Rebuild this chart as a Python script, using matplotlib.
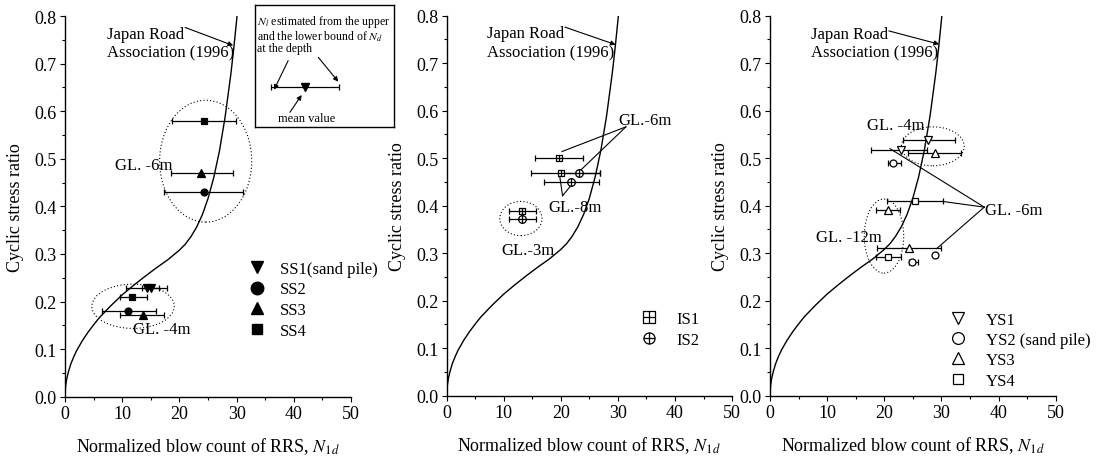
import matplotlib
matplotlib.use('Agg')
import matplotlib.pyplot as plt
from matplotlib.patches import Ellipse
from matplotlib.lines import Line2D
from matplotlib.path import Path
from matplotlib.ticker import FormatStrFormatter, MultipleLocator
import numpy as np

plt.rcParams['font.family'] = ['Liberation Serif', 'DejaVu Serif']
plt.rcParams['mathtext.fontset'] = 'stix'

# ---------------- data ----------------
# Japan Road Association (1996) curve
jra_N = [0, 0.1, 0.3, 0.6, 1, 1.5, 2, 3, 4, 5, 6, 8, 10, 12, 14, 16, 18, 20, 21, 22,
         23, 24, 25, 26, 27, 28, 29, 29.5, 30, 30.1]
jra_csr = [0, 0.021, 0.037, 0.052, 0.068, 0.083, 0.096, 0.117, 0.135, 0.151, 0.166,
           0.191, 0.214, 0.234, 0.253, 0.271, 0.288, 0.308, 0.320, 0.336, 0.356, 0.382,
           0.416, 0.460, 0.516, 0.588, 0.678, 0.731, 0.790, 0.803]

# Panel 1: SS sites  (mean N, CSR, lower N, upper N)
ss_labels = ['SS1(sand pile)', 'SS2', 'SS3', 'SS4']
ss1_N = [14.3, 15.0]; ss1_csr = [0.228, 0.228]; ss1_lo = [10.6, 13.4]; ss1_hi = [17.9, 16.4]
ss2_N = [11.1, 24.3]; ss2_csr = [0.181, 0.431]; ss2_lo = [6.4, 17.4]; ss2_hi = [16.0, 31.2]
ss3_N = [13.6, 23.8]; ss3_csr = [0.172, 0.470]; ss3_lo = [9.6, 18.5]; ss3_hi = [17.4, 29.4]
ss4_N = [11.8, 24.3]; ss4_csr = [0.209, 0.580]; ss4_lo = [9.6, 18.7]; ss4_hi = [14.4, 29.9]

# Panel 2: IS sites
is_labels = ['IS1', 'IS2']
is1_N = [19.7, 20.0, 13.2]; is1_csr = [0.500, 0.469, 0.389]; is1_lo = [15.5, 14.8, 11.0]; is1_hi = [23.8, 26.9, 15.6]
is2_N = [23.2, 21.8, 13.2]; is2_csr = [0.469, 0.449, 0.371]; is2_lo = [20.0, 17.1, 11.0]; is2_hi = [26.9, 26.7, 15.6]

# Panel 3: YS sites
ys_labels = ['YS1', 'YS2 (sand pile)', 'YS3', 'YS4']
ys1_N = [27.7, 23.0]; ys1_csr = [0.539, 0.518]; ys1_lo = [23.3, 17.6]; ys1_hi = [32.4, 27.5]
ys2_N = [21.6, 28.9, 24.9]; ys2_csr = [0.489, 0.296, 0.281]; ys2_lo = [20.7, 28.9, 24.3]; ys2_hi = [23.0, 28.9, 25.9]
ys3_N = [28.9, 20.6, 24.3]; ys3_csr = [0.511, 0.390, 0.310]; ys3_lo = [24.2, 18.5, 18.8]; ys3_hi = [33.5, 22.8, 30.0]
ys4_N = [25.3, 20.7]; ys4_csr = [0.409, 0.291]; ys4_lo = [20.4, 18.5]; ys4_hi = [30.2, 22.9]

# depth groups: (centre N, centre CSR, width N, height CSR)
ss_groups = [(24.6, 0.495, 16.1, 0.256), (11.9, 0.190, 14.4, 0.093)]
is_groups = [(13.0, 0.373, 7.4, 0.072)]
ys_groups = [(28.5, 0.525, 11.0, 0.082), (19.95, 0.336, 6.9, 0.156)]

# text labels (text, N, CSR)
ss_texts = [('GL. -6m', 8.7, 0.487), ('GL. -4m', 11.9, 0.143)]
is_texts = [('GL.-6m', 30.1, 0.581), ('GL.-8m', 17.8, 0.397), ('GL.-3m', 9.6, 0.307)]
ys_texts = [('GL. -4m', 16.9, 0.570), ('GL. -12m', 8.05, 0.334), ('GL. -6m', 37.6, 0.392)]

# leader lines: vertex, then end points
is_lead6_vertex = (31.4, 0.566); is_lead6_ends = [(20.2, 0.514), (23.4, 0.474)]
is_lead8_vertex = (20.3, 0.421); is_lead8_ends = [(19.8, 0.462), (21.8, 0.443)]
ys_lead6_vertex = (37.5, 0.397); ys_lead6_ends = [(21.0, 0.520), (30.2, 0.409), (29.2, 0.310)]

# Japan Road annotation: text pos, arrow start, arrow end
jra_text = [(7.3, 0.743), (7.1, 0.743), (7.2, 0.742)]
jra_arrow_from = [(21.0, 0.776), (20.7, 0.776), (20.8, 0.768)]
jra_arrow_to = [(29.4, 0.738), (29.6, 0.739), (29.6, 0.740)]

# ---------------- markers ----------------
M, L = Path.MOVETO, Path.LINETO
sq_plus = Path([(-1, -1), (1, -1), (1, 1), (-1, 1), (-1, -1), (0, -1), (0, 1), (-1, 0), (1, 0)],
               [M, L, L, L, Path.CLOSEPOLY, M, L, M, L])
circ_plus = Path.make_compound_path(Path.unit_circle(),
                                    Path([(0, -1), (0, 1)], [M, L]),
                                    Path([(-1, 0), (1, 0)], [M, L]))

fig = plt.figure(figsize=(11.03, 4.6), dpi=100)
ax1 = fig.add_axes([0.0589, 0.1354, 0.2593, 0.8276])
ax2 = fig.add_axes([0.4050, 0.1376, 0.2587, 0.8261])
ax3 = fig.add_axes([0.6981, 0.1376, 0.2590, 0.8261])


def style(ax):
    ax.set_xlim(0, 50)
    ax.set_ylim(0, 0.8)
    ax.spines['top'].set_visible(False)
    ax.spines['right'].set_visible(False)
    for s in ('left', 'bottom'):
        ax.spines[s].set_linewidth(1.0)
    ax.set_xticks(np.arange(0, 51, 10))
    ax.xaxis.set_minor_locator(MultipleLocator(5))
    ax.set_yticks(np.linspace(0, 0.8, 9))
    ax.yaxis.set_minor_locator(MultipleLocator(0.05))
    ax.yaxis.set_major_formatter(FormatStrFormatter('%.1f'))
    ax.tick_params(which='major', length=3.5, width=0.8, labelsize=13, pad=2.5)
    ax.tick_params(which='minor', length=2, width=0.8)
    ax.set_xlabel(r'Normalized blow count of RRS, $N_{\mathit{1d}}$', fontsize=13)
    ax.xaxis.set_label_coords(0.5, -0.10)
    ax.xaxis.label.set_va('top')
    ax.set_ylabel('Cyclic stress ratio', fontsize=13)
    ax.yaxis.label.set_va('center')
    ax.yaxis.set_label_coords(-0.172, 0.5)
    ax.plot(jra_N, jra_csr, color='k', lw=1.0)


def eb(ax, N, csr, lo, hi, marker, ms, mfc):
    N = np.asarray(N)
    xerr = [N - np.asarray(lo), np.asarray(hi) - N]
    ax.errorbar(N, csr, xerr=xerr, marker=marker, linestyle='none', ms=ms, mfc=mfc,
                mec='k', mew=0.9, ecolor='k', elinewidth=0.9, capsize=2.5,
                capthick=0.9, zorder=3)


def groups(ax, grp):
    for cx, cy, w, h in grp:
        ax.add_patch(Ellipse((cx, cy), w, h, fill=False, ls=(0, (1, 2)), lw=0.8, ec='k'))


def texts(ax, tl):
    for t, x, y in tl:
        ax.text(x, y, t, fontsize=12, ha='left', va='center')


def leaders(ax, vertex, ends):
    for e in ends:
        ax.plot([vertex[0], e[0]], [vertex[1], e[1]], color='k', lw=0.8)


for i, ax in enumerate((ax1, ax2, ax3)):
    style(ax)
    ax.text(jra_text[i][0], jra_text[i][1], 'Japan Road\nAssociation (1996)', fontsize=12,
            ha='left', va='center', linespacing=1.25)
    ax.annotate('', xy=jra_arrow_to[i], xytext=jra_arrow_from[i],
                arrowprops=dict(arrowstyle='-|>', lw=0.8, color='k', mutation_scale=7,
                                shrinkA=0, shrinkB=0))

# Panel 1
groups(ax1, ss_groups)
eb(ax1, ss1_N, ss1_csr, ss1_lo, ss1_hi, 'v', 5.5, 'k')
eb(ax1, ss2_N, ss2_csr, ss2_lo, ss2_hi, 'o', 5, 'k')
eb(ax1, ss3_N, ss3_csr, ss3_lo, ss3_hi, '^', 5.5, 'k')
eb(ax1, ss4_N, ss4_csr, ss4_lo, ss4_hi, 's', 5, 'k')
texts(ax1, ss_texts)
h1 = [Line2D([], [], marker=m, ls='none', color='k', ms=s) for m, s in
      zip(['v', 'o', '^', 's'], [9, 9, 9, 7.5])]
ax1.legend(h1, ss_labels, loc='upper left', bbox_to_anchor=(32.1, 0.286),
           bbox_transform=ax1.transData, frameon=False, fontsize=12, borderpad=0,
           borderaxespad=0, handlelength=1.0, handletextpad=0.9, labelspacing=0.285)

# Panel 2
groups(ax2, is_groups)
eb(ax2, is1_N, is1_csr, is1_lo, is1_hi, sq_plus, 5, 'white')
eb(ax2, is2_N, is2_csr, is2_lo, is2_hi, circ_plus, 5.5, 'white')
texts(ax2, is_texts)
leaders(ax2, is_lead6_vertex, is_lead6_ends)
leaders(ax2, is_lead8_vertex, is_lead8_ends)
h2 = [Line2D([], [], marker=m, ls='none', color='k', mfc='white', ms=8, mew=0.9)
      for m in (sq_plus, circ_plus)]
ax2.legend(h2, is_labels, loc='upper left', bbox_to_anchor=(33.9, 0.179),
           bbox_transform=ax2.transData, frameon=False, fontsize=12, borderpad=0,
           borderaxespad=0, handlelength=1.0, handletextpad=1.2, labelspacing=0.3)

# Panel 3
groups(ax3, ys_groups)
eb(ax3, ys1_N, ys1_csr, ys1_lo, ys1_hi, 'v', 6, 'white')
eb(ax3, ys2_N, ys2_csr, ys2_lo, ys2_hi, 'o', 5, 'white')
eb(ax3, ys3_N, ys3_csr, ys3_lo, ys3_hi, '^', 6, 'white')
eb(ax3, ys4_N, ys4_csr, ys4_lo, ys4_hi, 's', 5, 'white')
texts(ax3, ys_texts)
leaders(ax3, ys_lead6_vertex, ys_lead6_ends)
h3 = [Line2D([], [], marker=m, ls='none', color='k', mfc='white', ms=s, mew=0.9) for m, s in
      zip(['v', 'o', '^', 's'], [9, 8.5, 9, 7.5])]
ax3.legend(h3, ys_labels, loc='upper left', bbox_to_anchor=(31.4, 0.177),
           bbox_transform=ax3.transData, frameon=False, fontsize=12, borderpad=0,
           borderaxespad=0, handlelength=1.0, handletextpad=1.2, labelspacing=0.26)

# Inset explanation box (panel 1)
inset_bar_x = [0.361]; inset_bar_lo = [0.115]; inset_bar_hi = [0.607]
axi = fig.add_axes([254.7 / 1103, 1 - 128.3 / 460, 139.3 / 1103, 122.3 / 460])
axi.set_xlim(0, 1); axi.set_ylim(0, 1)
axi.set_xticks([]); axi.set_yticks([])
for s in axi.spines.values():
    s.set_linewidth(1.0)
axi.text(0.02, 0.765,
         '$N_l$ estimated from the upper\nand the lower bound of $N_d$\nat the depth',
         fontsize=8.5, ha='left', va='center', linespacing=0.92, multialignment='left')
bx = np.asarray(inset_bar_x)
axi.errorbar(bx, [0.327], xerr=[bx - np.asarray(inset_bar_lo), np.asarray(inset_bar_hi) - bx],
             marker='v', ms=5.5, color='k', ecolor='k', elinewidth=0.9, capsize=2.5,
             capthick=0.9, linestyle='none')
arrow_kw = dict(arrowstyle='-|>', lw=0.8, color='k', mutation_scale=7, shrinkA=0, shrinkB=0)
axi.annotate('', xy=(0.139, 0.307), xytext=(0.24, 0.545), arrowprops=arrow_kw)
axi.annotate('', xy=(0.60, 0.373), xytext=(0.457, 0.572), arrowprops=arrow_kw)
axi.annotate('', xy=(0.337, 0.264), xytext=(0.253, 0.123), arrowprops=arrow_kw)
axi.text(0.373, 0.074, 'mean value', fontsize=9, ha='center', va='center')

fig.savefig('out.png', dpi=100)
